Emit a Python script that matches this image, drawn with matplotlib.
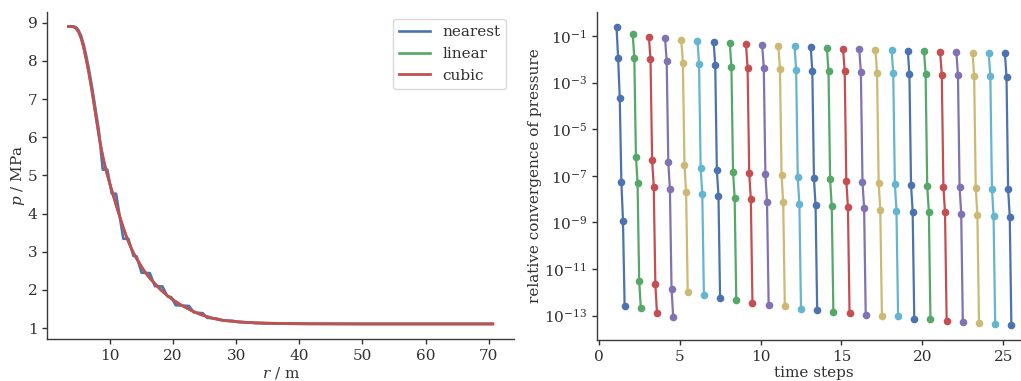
import matplotlib
matplotlib.use("Agg")
import matplotlib.pyplot as plt
import numpy as np

# ---------------- data ----------------
# left panel: pressure profile
cubic_r = [3.40, 3.80, 4.20, 4.60, 5.00, 5.40, 5.80, 6.20, 6.60, 7.00, 7.40, 7.80,
           8.20, 8.60, 9.00, 9.50, 10.0, 10.5, 11.0, 11.5, 12.0, 12.5, 13.0, 13.5,
           14.0, 14.5, 15.0, 15.5, 16.0, 16.5, 17.0, 18.0, 19.0, 20.0, 21.0, 22.0,
           23.0, 24.0, 25.0, 26.0, 27.0, 28.0, 30.0, 32.0, 35.0, 38.0, 42.0, 50.0,
           60.0, 70.65]
cubic_p = [8.90, 8.90, 8.89, 8.85, 8.76, 8.60, 8.36, 8.05, 7.72, 7.34, 6.93, 6.50,
           6.08, 5.70, 5.38, 5.05, 4.76, 4.48, 4.20, 3.94, 3.68, 3.44, 3.23, 3.04,
           2.88, 2.74, 2.60, 2.48, 2.37, 2.27, 2.18, 2.01, 1.86, 1.74, 1.63, 1.54,
           1.45, 1.38, 1.32, 1.27, 1.23, 1.20, 1.17, 1.145, 1.13, 1.12, 1.115, 1.11,
           1.11, 1.11]
linear_r = cubic_r
linear_p = cubic_p
nearest_r = [3.4, 4.2, 4.6, 5.0, 5.4, 5.8, 6.2, 6.6, 7.0, 7.4, 7.8, 8.2, 8.84, 9.57,
             10.27, 10.95, 12.1, 12.9, 13.7, 14.2, 15.0, 16.3, 17.1, 18.3, 19.1, 19.7,
             20.4, 22.5, 23.3, 24.7, 25.4, 26.9, 28.0, 29.5, 30.2, 32.0, 33.0, 36.0,
             40.0, 50.0, 60.0, 70.65]
nearest_p = [8.90, 8.90, 8.88, 8.80, 8.66, 8.44, 8.15, 7.82, 7.45, 7.05, 6.62, 6.20,
             5.15, 5.15, 4.52, 4.52, 3.34, 3.34, 2.89, 2.88, 2.45, 2.44, 2.10, 2.09,
             1.83, 1.81, 1.60, 1.58, 1.41, 1.39, 1.27, 1.25, 1.20, 1.19, 1.16, 1.15,
             1.13, 1.12, 1.11, 1.11, 1.11, 1.11]

# right panel: relative convergence per time step (Newton iterations)
time_steps = list(range(1, 26))
convergence = [
    [2.5e-1, 1.1e-2, 2.1e-4, 5.4e-8, 1.15e-9, 2.7e-13],
    [1.23e-1, 1.1e-2, 6.6e-7, 5.1e-8, 3.2e-12, 2.2e-13],
    [9.3e-2, 1.0e-2, 4.8e-7, 3.4e-8, 2.3e-12, 1.3e-13],
    [7.8e-2, 8.5e-3, 3.8e-7, 2.6e-8, 1.45e-12, 9.1e-14],
    [6.9e-2, 7.2e-3, 2.9e-7, 1.95e-8, 1.07e-12],
    [6.3e-2, 6.5e-3, 2.1e-7, 1.7e-8, 7.4e-13],
    [5.4e-2, 5.9e-3, 1.8e-7, 1.4e-8, 5.9e-13],
    [4.9e-2, 4.7e-3, 1.5e-7, 1.15e-8, 4.7e-13],
    [4.6e-2, 4.4e-3, 1.35e-7, 1.02e-8, 3.6e-13],
    [4.1e-2, 4.4e-3, 1.15e-7, 7.8e-9, 3.0e-13],
    [3.7e-2, 4.0e-3, 1.05e-7, 7.2e-9, 2.6e-13],
    [3.6e-2, 3.6e-3, 8.5e-8, 6.0e-9, 2.0e-13],
    [3.4e-2, 3.2e-3, 7.8e-8, 5.4e-9, 1.7e-13],
    [3.0e-2, 3.0e-3, 7.1e-8, 4.9e-9, 1.5e-13],
    [2.75e-2, 3.0e-3, 6.0e-8, 4.6e-9, 1.3e-13],
    [2.75e-2, 2.8e-3, 5.4e-8, 4.2e-9, 1.1e-13],
    [2.6e-2, 2.6e-3, 4.9e-8, 3.5e-9, 1.0e-13],
    [2.5e-2, 2.6e-3, 4.6e-8, 3.2e-9, 9.3e-14],
    [2.3e-2, 2.3e-3, 4.2e-8, 2.9e-9, 7.4e-14],
    [2.3e-2, 2.3e-3, 3.8e-8, 2.9e-9, 6.9e-14],
    [2.0e-2, 2.1e-3, 3.4e-8, 2.7e-9, 6.0e-14],
    [2.0e-2, 2.1e-3, 3.4e-8, 2.3e-9, 5.5e-14],
    [1.9e-2, 1.9e-3, 3.1e-8, 2.1e-9, 4.8e-14],
    [1.9e-2, 1.9e-3, 2.8e-8, 1.95e-9, 4.4e-14],
    [1.8e-2, 1.7e-3, 2.6e-8, 1.8e-9, 4.0e-14],
]
iteration_spacing = 0.1

left_xticks = [10, 20, 30, 40, 50, 60, 70]
left_yticks = [1, 2, 3, 4, 5, 6, 7, 8, 9]
right_xticks = [0, 5, 10, 15, 20, 25]
right_yticks = [1e-1, 1e-3, 1e-5, 1e-7, 1e-9, 1e-11, 1e-13]

# ---------------- style ----------------
colors = ["#4C72B0", "#55A868", "#C44E52", "#8172B2", "#CCB974", "#64B5CD"]
txt = "#303030"
plt.rcParams.update({
    "font.family": "serif",
    "font.serif": ["DejaVu Serif"],
    "mathtext.fontset": "dejavuserif",
    "font.size": 11,
    "text.color": txt,
    "axes.labelcolor": txt,
    "xtick.color": txt,
    "ytick.color": txt,
    "axes.edgecolor": "#3a3a3a",
    "axes.linewidth": 1.0,
    "xtick.direction": "out",
    "ytick.direction": "out",
    "xtick.major.size": 3.5,
    "ytick.major.size": 3.5,
    "xtick.major.width": 1.0,
    "ytick.major.width": 1.0,
})

fig = plt.figure(figsize=(10.21, 3.81), dpi=100)
ax1 = fig.add_axes([0.04623, 0.11076, 0.4572, 0.8588])
ax2 = fig.add_axes([0.5845, 0.1079, 0.4254, 0.8612])

# left panel
ax1.plot(nearest_r, nearest_p, color=colors[0], lw=1.9, label="nearest")
ax1.plot(linear_r, linear_p, color=colors[1], lw=1.9, label="linear")
ax1.plot(cubic_r, cubic_p, color=colors[2], lw=2.0, label="cubic")
ax1.set_xticks(left_xticks)
ax1.set_yticks(left_yticks)
ax1.set_xlabel("$r$ / m", labelpad=2)
ax1.set_ylabel("$p$ / MPa", labelpad=0.5)
leg = ax1.legend(loc="upper right", frameon=True, fancybox=True, fontsize=11)
leg.get_frame().set_edgecolor("#d0d0d0")
leg.get_frame().set_linewidth(1.0)

# right panel
for i, (t, vals) in enumerate(zip(time_steps, convergence)):
    xs = [t + iteration_spacing * (k + 1) for k in range(len(vals))]
    ax2.plot(xs, vals, "-o", color=colors[i % len(colors)], lw=1.6, ms=5.5,
             markeredgewidth=0)
ax2.set_yscale("log")
ax2.set_yticks(right_yticks)
ax2.minorticks_off()
ax2.set_xticks(right_xticks)
ax2.set_xlabel("time steps", labelpad=2)
ax2.set_ylabel("relative convergence of pressure", labelpad=1.5)

for ax in (ax1, ax2):
    ax.spines["top"].set_visible(False)
    ax.spines["right"].set_visible(False)

fig.savefig("out.png", dpi=100)
